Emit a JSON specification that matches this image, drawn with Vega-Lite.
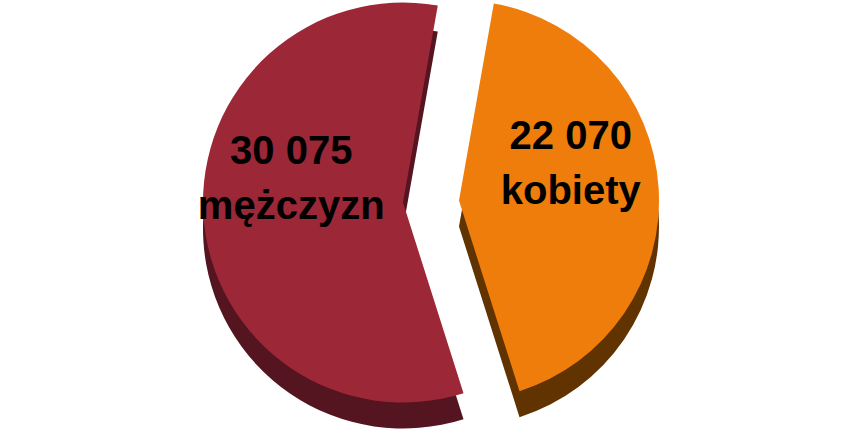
{
  "$schema": "https://vega.github.io/schema/vega-lite/v6.json",
  "width": 862,
  "height": 429,
  "autosize": {"type": "fit", "contains": "padding"},
  "padding": 0,
  "background": "white",
  "config": {"view": {"stroke": null}},
  "data": {
    "values": [
      {"sex": "kobiety", "value": 22070, "label": "22 070\nkobiety", "order": 1},
      {"sex": "mężczyzn", "value": 30075, "label": "30 075\nmężczyzn", "order": 2}
    ]
  },
  "layer": [
    {
      "transform": [
        {"stack": "value", "groupby": [], "as": ["v0", "v1"], "sort": [{"field": "order", "order": "ascending"}]},
        {"filter": "datum.sex === 'mężczyzn'"}
      ],
      "mark": {"type": "arc", "radius": 200, "fill": "#551520", "xOffset": -28, "yOffset": 14},
      "encoding": {
        "theta": {"field": "v0", "type": "quantitative", "scale": {"domain": [0, 52145], "range": [0.175, 6.458]}},
        "theta2": {"field": "v1"}
      }
    },
    {
      "transform": [
        {"stack": "value", "groupby": [], "as": ["v0", "v1"], "sort": [{"field": "order", "order": "ascending"}]},
        {"filter": "datum.sex === 'kobiety'"}
      ],
      "mark": {"type": "arc", "radius": 200, "fill": "#613300", "xOffset": 28, "yOffset": 12},
      "encoding": {
        "theta": {"field": "v0", "type": "quantitative", "scale": {"domain": [0, 52145], "range": [0.175, 6.458]}},
        "theta2": {"field": "v1"}
      }
    },
    {
      "transform": [
        {"stack": "value", "groupby": [], "as": ["v0", "v1"], "sort": [{"field": "order", "order": "ascending"}]},
        {"filter": "datum.sex === 'mężczyzn'"}
      ],
      "mark": {"type": "arc", "radius": 200, "fill": "#9B2737", "xOffset": -28, "yOffset": -12},
      "encoding": {
        "theta": {"field": "v0", "type": "quantitative", "scale": {"domain": [0, 52145], "range": [0.175, 6.458]}},
        "theta2": {"field": "v1"}
      }
    },
    {
      "transform": [
        {"stack": "value", "groupby": [], "as": ["v0", "v1"], "sort": [{"field": "order", "order": "ascending"}]},
        {"filter": "datum.sex === 'kobiety'"}
      ],
      "mark": {"type": "arc", "radius": 200, "fill": "#EE7D0C", "xOffset": 28, "yOffset": -14},
      "encoding": {
        "theta": {"field": "v0", "type": "quantitative", "scale": {"domain": [0, 52145], "range": [0.175, 6.458]}},
        "theta2": {"field": "v1"}
      }
    },
    {
      "mark": {"type": "text", "radius": 112, "font": "Liberation Sans", "fontWeight": "bold", "fontSize": 40, "lineBreak": "\n", "lineHeight": 55, "fill": "black", "xOffset": -28, "yOffset": -70, "align": "center", "baseline": "middle"},
      "encoding": {
        "theta": {"field": "value", "type": "quantitative", "stack": true, "scale": {"domain": [0, 52145], "range": [0.175, 6.458]}},
        "order": {"field": "order", "type": "quantitative"},
        "text": {"field": "label"},
        "opacity": {"condition": {"test": "datum.sex === 'mężczyzn'", "value": 1}, "value": 0}
      }
    },
    {
      "mark": {"type": "text", "radius": 112, "font": "Liberation Sans", "fontWeight": "bold", "fontSize": 40, "lineBreak": "\n", "lineHeight": 55, "fill": "black", "xOffset": 28, "yOffset": -70, "align": "center", "baseline": "middle"},
      "encoding": {
        "theta": {"field": "value", "type": "quantitative", "stack": true, "scale": {"domain": [0, 52145], "range": [0.175, 6.458]}},
        "order": {"field": "order", "type": "quantitative"},
        "text": {"field": "label"},
        "opacity": {"condition": {"test": "datum.sex === 'kobiety'", "value": 1}, "value": 0}
      }
    }
  ]
}
